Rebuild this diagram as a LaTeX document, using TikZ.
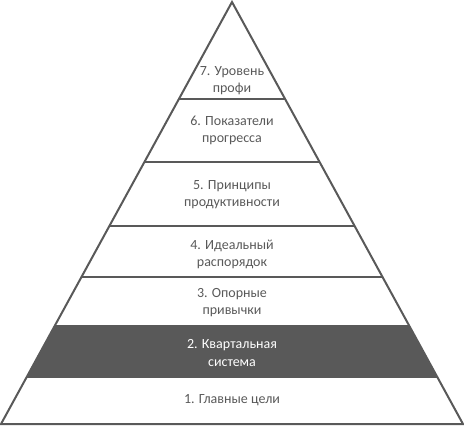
\documentclass[tikz,border=0pt]{standalone}
\usepackage{fontspec}
\setmainfont{Carlito}
\usepackage{xcolor}
\usepackage{tikz}
\usetikzlibrary{calc}
\usetikzlibrary{math}
\definecolor{grisfonce}{HTML}{595959}

\begin{document}
\begin{tikzpicture}[x=0.75pt,y=-0.75pt,
        niveau/.style={align=center,text=grisfonce,font=\fontsize{10.5}{12.8}\selectfont},
        niveausombre/.style={niveau,text=white}]
            \useasboundingbox (0,0) rectangle (464,426);
            \coordinate (A) at (232,2);
            \coordinate (L) at (1,424);
            \coordinate (R) at (463,424);

            % bande sombre (niveau 2)
            \tikzmath{\ta = (326-2)/422; \tb = (377-2)/422;}
            \fill[grisfonce] ($(A)!\ta!(L)$) -- ($(A)!\ta!(R)$) -- ($(A)!\tb!(R)$) -- ($(A)!\tb!(L)$) -- cycle;

            \draw[grisfonce,line width=1.5pt,line join=miter] (L) -- (A) -- (R) -- cycle;
            \foreach \y in {99,162,226,277,326,377} {
                \tikzmath{\t = (\y-2)/422;}
                \draw[grisfonce,line width=1.5pt] ($(A)!\t!(L)$) -- ($(A)!\t!(R)$);
            }

            \node[niveau] (niv7) at (232,81) {7. Уровень\\профи};
            \node[niveau] (niv6) at (232,130) {6. Показатели\\прогресса};
            \node[niveau] (niv5) at (232,195) {5. Принципы\\продуктивности};
            \node[niveau] (niv4) at (232,254) {4. Идеальный\\распорядок};
            \node[niveau] (niv3) at (232,303) {3. Опорные\\привычки};
            \node[niveausombre] (niv2) at (232,353) {2. Квартальная\\система};
            \node[niveau] (niv1) at (232,400) {1. Главные цели};
        \end{tikzpicture}
\end{document}
